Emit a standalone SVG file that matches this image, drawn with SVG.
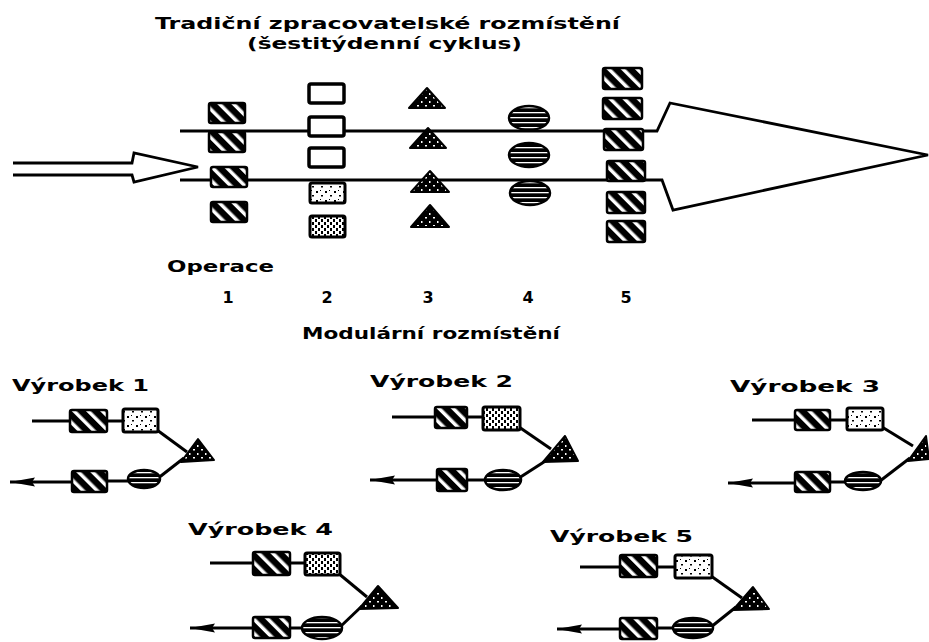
<svg xmlns="http://www.w3.org/2000/svg" width="929" height="642" viewBox="0 0 929 642">
<defs>
<pattern id="hatch" patternUnits="userSpaceOnUse" width="10" height="10" patternTransform="rotate(-45)">
<rect width="10" height="10" fill="#000"/><rect x="0" y="0" width="3.5" height="10" fill="#fff"/>
</pattern>
<pattern id="stip" patternUnits="userSpaceOnUse" width="9" height="9">
<rect width="9" height="9" fill="#fff"/><rect x="1" y="2" width="2" height="2" fill="#000"/><rect x="6" y="6" width="2" height="1.5" fill="#000"/><rect x="5" y="1" width="1" height="1" fill="#000"/>
</pattern>
<pattern id="stip2" patternUnits="userSpaceOnUse" width="6" height="6">
<rect width="6" height="6" fill="#fff"/><rect x="0" y="0" width="2" height="3" fill="#000"/><rect x="3" y="3" width="2" height="3" fill="#000"/>
</pattern>
<pattern id="speck" patternUnits="userSpaceOnUse" width="8" height="8">
<rect width="8" height="8" fill="#000"/><rect x="1" y="1" width="2" height="1.5" fill="#fff"/><rect x="5" y="5" width="1.5" height="2" fill="#fff"/>
</pattern>
<pattern id="hlines" patternUnits="userSpaceOnUse" width="8" height="5">
<rect width="8" height="5" fill="#000"/><rect x="0" y="2" width="8" height="1.3" fill="#fff"/>
</pattern>
<marker id="ah" markerUnits="userSpaceOnUse" markerWidth="26" markerHeight="12" viewBox="0 0 26 12" refX="25" refY="6" orient="auto">
<path d="M0,1.5 L25,6 L0,10.5 L3,6 Z" fill="#000"/>
</marker>
<style>
.t{font-family:"DejaVu Sans","Liberation Sans",sans-serif;font-weight:bold;fill:#000;}
.ln{fill:none;stroke:#000;stroke-width:2.8;stroke-linejoin:miter;}
.ml{fill:none;stroke:#000;stroke-width:3;}
.h{fill:url(#hatch);stroke:#000;stroke-width:2.5;}
.w{fill:#fff;stroke:#000;stroke-width:3.5;}
.s{fill:url(#stip);stroke:#000;stroke-width:3;}
.s2{fill:url(#stip2);stroke:#000;stroke-width:3;}
.tr{fill:url(#speck);stroke:#000;stroke-width:2;stroke-linejoin:round;}
.el{fill:url(#hlines);stroke:#000;stroke-width:2.5;}
</style>
</defs>
<rect width="929" height="642" fill="#fff"/>

<g id="labels">
<text class="t" x="155" y="29" font-size="16" textLength="465" lengthAdjust="spacingAndGlyphs">Tradiční zpracovatelské rozmístění</text>
<text class="t" x="247" y="49" font-size="15" textLength="275" lengthAdjust="spacingAndGlyphs">(šestitýdenní cyklus)</text>
<text class="t" x="167" y="272" font-size="16" textLength="107" lengthAdjust="spacingAndGlyphs">Operace</text>
<text class="t" x="228" y="303" font-size="16" text-anchor="middle">1</text>
<text class="t" x="327" y="303" font-size="16" text-anchor="middle">2</text>
<text class="t" x="428" y="303" font-size="16" text-anchor="middle">3</text>
<text class="t" x="528" y="303" font-size="16" text-anchor="middle">4</text>
<text class="t" x="626" y="303" font-size="16" text-anchor="middle">5</text>
<text class="t" x="302" y="339" font-size="16" textLength="258" lengthAdjust="spacingAndGlyphs">Modulární rozmístění</text>
</g>

<g id="connectors">
<polyline class="ln" points="180,131 657,131 670,103 928,155 673,210 662,180 180,180"/>
<polyline class="ln" points="13,163 132,163 134,153 198,167 134,182 132,175 13,175"/>
<line class="ml" x1="32" y1="421" x2="70" y2="421"/>
<line class="ml" x1="107" y1="421" x2="123" y2="421"/>
<line class="ml" x1="157" y1="430" x2="187" y2="452"/>
<line class="ml" x1="184" y1="458" x2="157" y2="479"/>
<line class="ml" x1="107" y1="481" x2="128" y2="481"/>
<line class="ml" x1="72" y1="482" x2="10" y2="482" marker-end="url(#ah)"/>
<line class="ml" x1="392" y1="417" x2="435" y2="417"/>
<line class="ml" x1="467" y1="417" x2="483" y2="417"/>
<line class="ml" x1="519" y1="427" x2="551" y2="449"/>
<line class="ml" x1="547" y1="460" x2="519" y2="478"/>
<line class="ml" x1="467" y1="480" x2="485" y2="480"/>
<line class="ml" x1="437" y1="480" x2="370" y2="480" marker-end="url(#ah)"/>
<line class="ml" x1="752" y1="420" x2="795" y2="420"/>
<line class="ml" x1="830" y1="420" x2="847" y2="420"/>
<line class="ml" x1="882" y1="427" x2="913" y2="446"/>
<line class="ml" x1="910" y1="458" x2="880" y2="481"/>
<line class="ml" x1="830" y1="482" x2="845" y2="482"/>
<line class="ml" x1="795" y1="483" x2="728" y2="483" marker-end="url(#ah)"/>
<line class="ml" x1="210" y1="563" x2="253" y2="563"/>
<line class="ml" x1="290" y1="563" x2="305" y2="563"/>
<line class="ml" x1="338" y1="573" x2="367" y2="597"/>
<line class="ml" x1="362" y1="606" x2="340" y2="627"/>
<line class="ml" x1="290" y1="628" x2="302" y2="628"/>
<line class="ml" x1="253" y1="628" x2="190" y2="628" marker-end="url(#ah)"/>
<line class="ml" x1="580" y1="567" x2="620" y2="567"/>
<line class="ml" x1="657" y1="567" x2="675" y2="567"/>
<line class="ml" x1="711" y1="576" x2="742" y2="598"/>
<line class="ml" x1="736" y1="607" x2="711" y2="627"/>
<line class="ml" x1="657" y1="628" x2="673" y2="628"/>
<line class="ml" x1="620" y1="629" x2="557" y2="629" marker-end="url(#ah)"/>
</g>

<g id="op1">
<rect class="h" x="209" y="103" width="36" height="20" rx="2"/>
<rect class="h" x="209" y="132" width="36" height="20" rx="2"/>
<rect class="h" x="211" y="167" width="36" height="20" rx="2"/>
<rect class="h" x="211" y="202" width="36" height="20" rx="2"/>
</g>
<g id="op2">
<rect class="w" x="309" y="84" width="35" height="19" rx="2"/>
<rect class="w" x="309" y="117" width="35" height="19" rx="2"/>
<rect class="w" x="309" y="148" width="35" height="19" rx="2"/>
<rect class="s" x="310" y="183" width="35" height="20" rx="2"/>
<rect class="s2" x="310" y="216" width="35" height="21" rx="2"/>
</g>
<g id="op3">
<polygon class="tr" points="427,88 409,108 445,108"/>
<polygon class="tr" points="428,128 410,148 446,148"/>
<polygon class="tr" points="430,171 411,192 449,192"/>
<polygon class="tr" points="430,205 411,227 449,227"/>
</g>
<g id="op4">
<ellipse class="el" cx="529" cy="118" rx="20" ry="12"/>
<ellipse class="el" cx="529" cy="155" rx="20" ry="12"/>
<ellipse class="el" cx="530" cy="193" rx="20" ry="12"/>
</g>
<g id="op5">
<rect class="h" x="603" y="68" width="39" height="21" rx="2"/>
<rect class="h" x="603" y="98" width="39" height="21" rx="2"/>
<rect class="h" x="604" y="129" width="39" height="21" rx="2"/>
<rect class="h" x="607" y="161" width="38" height="20" rx="2"/>
<rect class="h" x="607" y="192" width="38" height="21" rx="2"/>
<rect class="h" x="607" y="221" width="38" height="21" rx="2"/>
</g>

<g id="vyrobek1">
<text class="t" x="12" y="391" font-size="16" textLength="137" lengthAdjust="spacingAndGlyphs">Výrobek 1</text>
<rect class="h" x="70" y="410" width="37" height="22" rx="2"/>
<rect class="s" x="123" y="409" width="35" height="23" rx="2"/>
<polygon class="tr" points="198,439 181,462 214,460"/>
<ellipse class="el" cx="144" cy="479" rx="16" ry="9"/>
<rect class="h" x="72" y="471" width="35" height="21" rx="2"/>
</g>
<g id="vyrobek2">
<text class="t" x="370" y="387" font-size="16" textLength="143" lengthAdjust="spacingAndGlyphs">Výrobek  2</text>
<rect class="h" x="435" y="407" width="32" height="21" rx="2"/>
<rect class="s2" x="483" y="407" width="37" height="23" rx="2"/>
<polygon class="tr" points="565,436 543,462 578,461"/>
<ellipse class="el" cx="503" cy="480" rx="18" ry="10"/>
<rect class="h" x="437" y="469" width="30" height="22" rx="2"/>
</g>
<g id="vyrobek3">
<text class="t" x="730" y="392" font-size="16" textLength="150" lengthAdjust="spacingAndGlyphs">Výrobek  3</text>
<rect class="h" x="795" y="410" width="35" height="20" rx="2"/>
<rect class="s" x="847" y="408" width="36" height="22" rx="2"/>
<polygon class="tr" points="926,436 908,461 929,459"/>
<ellipse class="el" cx="863" cy="481" rx="18" ry="9"/>
<rect class="h" x="795" y="472" width="35" height="20" rx="2"/>
</g>
<g id="vyrobek4">
<text class="t" x="188" y="535" font-size="16" textLength="145" lengthAdjust="spacingAndGlyphs">Výrobek  4</text>
<rect class="h" x="253" y="552" width="37" height="23" rx="2"/>
<rect class="s2" x="305" y="553" width="35" height="22" rx="2"/>
<polygon class="tr" points="378,586 359,609 398,608"/>
<ellipse class="el" cx="322" cy="628" rx="20" ry="11"/>
<rect class="h" x="253" y="617" width="37" height="21" rx="2"/>
</g>
<g id="vyrobek5">
<text class="t" x="550" y="542" font-size="16" textLength="143" lengthAdjust="spacingAndGlyphs">Výrobek  5</text>
<rect class="h" x="620" y="555" width="37" height="22" rx="2"/>
<rect class="s" x="675" y="555" width="37" height="23" rx="2"/>
<polygon class="tr" points="753,587 733,610 769,609"/>
<ellipse class="el" cx="693" cy="628" rx="20" ry="10"/>
<rect class="h" x="620" y="618" width="37" height="21" rx="2"/>
</g>
</svg>
